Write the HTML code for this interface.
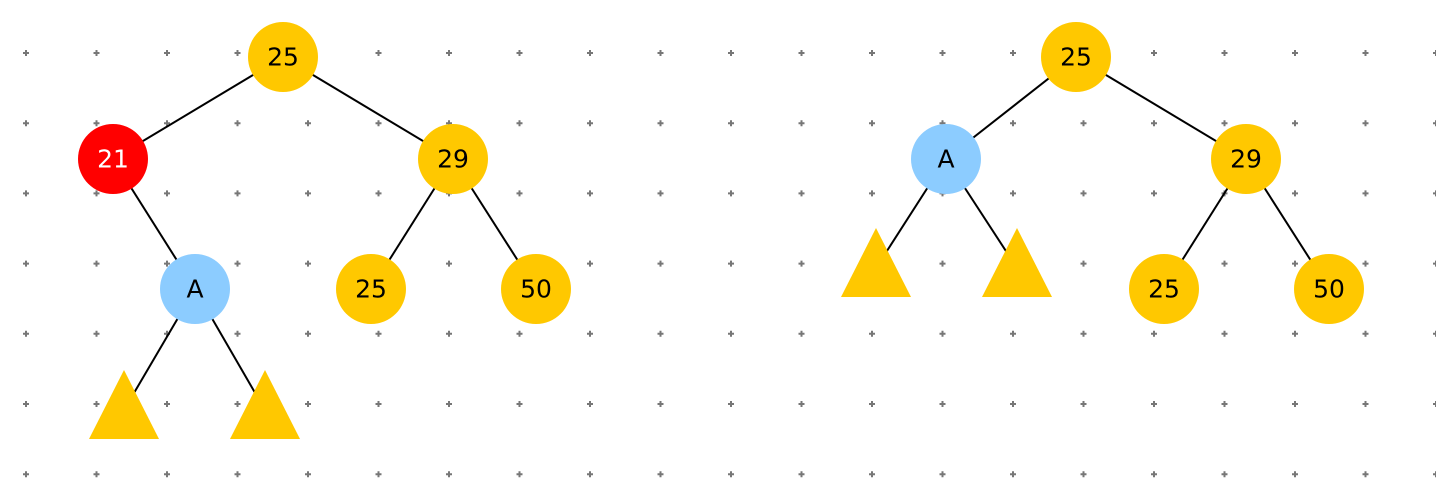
<!DOCTYPE html>
<html><head><meta charset="utf-8"><style>body{margin:0;background:#fff}svg{display:block}text{font-family:"DejaVu Sans","Liberation Sans",sans-serif;font-size:25px;text-anchor:middle;dominant-baseline:central}</style></head>
<body>
<svg id="s" width="1436" height="480"></svg>
<script>
const nodes=[
['l25',283,57,'25','#ffc800','#000'],['l21',113,159,'21','#ff0000','#fff'],['l29',453,159,'29','#ffc800','#000'],
['lA',195,289,'A','#8cccff','#000'],['l25b',371,289,'25','#ffc800','#000'],['l50',536,289,'50','#ffc800','#000'],
['r25',1076,57,'25','#ffc800','#000'],['rA',946,159,'A','#8cccff','#000'],['r29',1246,159,'29','#ffc800','#000'],
['r25b',1164,289,'25','#ffc800','#000'],['r50',1329,289,'50','#ffc800','#000']];
const tris=[['lt1',124,370,439],['lt2',265,370,439],['rt1',876,228,297],['rt2',1017,228,297]];
const edges=[['l25','l21'],['l25','l29'],['l21','lA'],['l29','l25b'],['l29','l50'],['lA','lt1'],['lA','lt2'],
['r25','rA'],['r25','r29'],['r29','r25b'],['r29','r50'],['rA','rt1'],['rA','rt2']];
const s=document.getElementById('s'),NS='http://www.w3.org/2000/svg';
function mk(t,a){const e=document.createElementNS(NS,t);for(const k in a)e.setAttribute(k,a[k]);s.appendChild(e);return e;}
for(let i=0;i<21;i++)for(let j=0;j<7;j++){const x=26+70.5*i,y=53+70.2*j;
const g=mk('path',{d:`M${x-3} ${y}h6M${x} ${y-3}v6`,stroke:'#777','stroke-width':2});

}
const pos={};nodes.forEach(n=>pos[n[0]]=[n[1],n[2]]);tris.forEach(t=>pos[t[0]]=[t[1],t[2]+40]);
edges.forEach(e=>{const a=pos[e[0]],b=pos[e[1]];const l=mk('line',{x1:a[0],y1:a[1],x2:b[0],y2:b[1],stroke:'#000','stroke-width':2});

});
tris.forEach(t=>{const p=mk('polygon',{points:`${t[1]},${t[2]} ${t[1]-35},${t[3]} ${t[1]+35},${t[3]}`,fill:'#ffc800'});

});
nodes.forEach(n=>{const c=mk('circle',{cx:n[1],cy:n[2],r:35,fill:n[4]});


const t=mk('text',{x:n[1],y:n[2],fill:n[5]});t.textContent=n[3];

});
</script>
</body></html>
